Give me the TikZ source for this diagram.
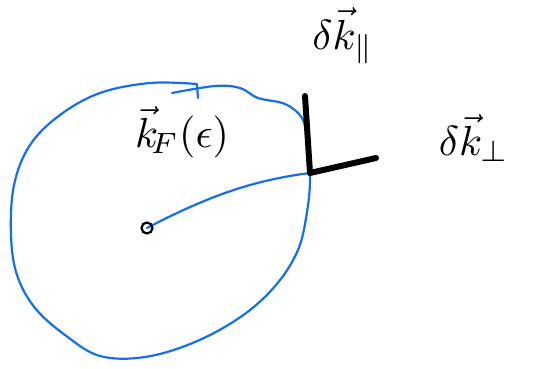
\documentclass[tikz,border=0pt]{standalone}
\usepackage{amsmath}
\begin{document}
\begin{tikzpicture}[x=1pt,y=-1pt,
  fermi/.style={draw={rgb,255:red,20;green,110;blue,240},line width=2.2pt,line cap=round,line join=round},
  kvec/.style={draw=black,line width=6pt,line cap=round},
  lbl/.style={inner sep=0pt,scale=4.2}]
\useasboundingbox (0,0) rectangle (533,369);
% Fermi surface
\draw[fermi] plot[smooth,tension=0.6] coordinates {(197,84) (150,83) (100,93) (60,115) (30,145) (14,185) (11,235) (17,275) (35,308) (65,335) (100,356) (145,357) (195,342) (242,316) (276,285) (298,250) (307,212) (310,178) (307,140) (302,118) (285,104) (258,98) (240,88) (215,86) (172,93)};
\draw[fermi] (197,85) -- (198,98);
% center and radius
\coordinate (c) at (147,228);
\coordinate (p) at (310,173);
\draw[fermi] (c) .. controls (210,195) and (255,180) .. (p);
\draw[black,line width=2.2pt] (c) circle (5.5);
% displacement vectors
\coordinate (top) at (305,96);
\coordinate (right) at (376,158);
\draw[kvec] (p) -- (top);
\draw[kvec] (p) -- (right);
% labels
\node[lbl] (kF) at (182,132) {$\vec{k}_{\!F}(\epsilon)$};
\node[lbl] (kpar) at (343,36) {$\delta\vec{k}_{\parallel}$};
\node[lbl] (kperp) at (474,138) {$\delta\vec{k}_{\perp}$};
\end{tikzpicture}
\end{document}
